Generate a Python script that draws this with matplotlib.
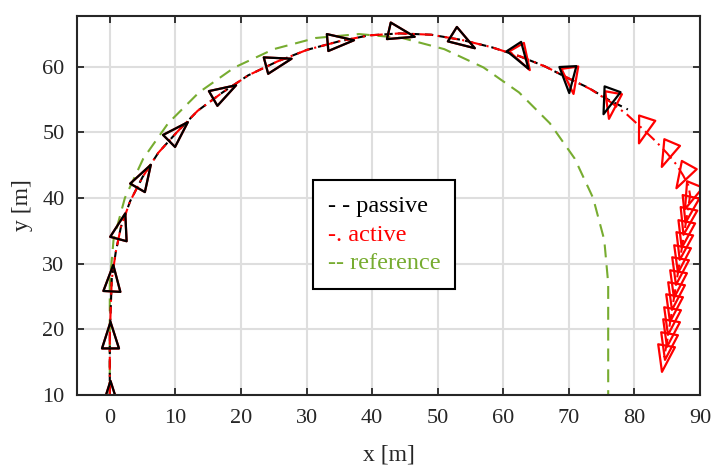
import matplotlib
matplotlib.use("Agg")
import matplotlib.pyplot as plt
from matplotlib.markers import MarkerStyle
from matplotlib.path import Path
from matplotlib.transforms import Affine2D
from matplotlib.lines import Line2D

# ---------------- data ----------------
# reference path
ref_x = [0, 0, 0, 0.57, 2.3, 5.1, 8.9, 13.6, 19.0, 25.0, 31.4, 38.0, 44.6, 51.0,
         57.0, 62.4, 67.1, 70.9, 73.7, 75.4, 76.0, 76.0]
ref_y = [10, 20, 27, 33.6, 40.0, 46.0, 51.4, 56.1, 59.9, 62.7, 64.4, 65.0, 64.4, 62.7,
         59.9, 56.1, 51.4, 46.0, 40.0, 33.6, 27.0, 10]

# passive path
pas_x = [0, 0, 0.3, 0.9, 1.7, 3.1, 5.0, 7.4, 10.2, 13.4, 17.2, 21.1, 25.5, 30.1, 35.0,
         39.5, 44.2, 49.0, 53.7, 58.2, 62.5, 66.3, 69.8, 73.0, 76.0, 79.0]
pas_y = [10, 19, 27.6, 31.7, 35.6, 39.5, 43.2, 46.9, 50.0, 53.3, 56.1, 58.7, 60.8, 62.6, 63.9,
         64.8, 65.1, 64.9, 64.1, 63.0, 61.6, 60.1, 58.3, 56.8, 55.0, 53.5]
# passive heading markers
pas_mx = [0, 0, 0.3, 1.7, 5.0, 10.2, 17.2, 25.5, 35.0, 44.2, 53.7, 62.5, 69.8, 76.0]
pas_my = [10, 19, 27.6, 35.6, 43.2, 50.0, 56.1, 60.8, 63.9, 65.1, 64.1, 61.6, 58.3, 55.0]
pas_hd = [90, 90, 87, 75, 60, 45, 30, 15, 5, -13, -32, -57, -87, -110]

# active path
act_x = [0, 0, 0.3, 0.9, 1.7, 3.1, 5.0, 7.4, 10.2, 13.4, 17.2, 21.1, 25.5, 30.1, 35.0,
         39.5, 44.2, 49.0, 53.7, 58.2, 62.6, 66.5, 70.1, 73.3, 76.4, 78.9, 81.3, 83.3,
         85.0, 86.4, 87.4, 88.2, 88.5, 88.2, 87.9, 87.6, 87.3, 87.0, 86.7, 86.4, 86.1,
         85.8, 85.5, 85.2, 84.9, 84.5]
act_y = [10, 19, 27.6, 31.7, 35.6, 39.5, 43.2, 46.9, 50.0, 53.3, 56.1, 58.7, 60.8, 62.6, 63.9,
         64.8, 65.1, 64.9, 64.1, 63.0, 61.6, 60.0, 58.2, 56.6, 54.6, 52.7, 50.5, 48.6,
         46.8, 45.1, 43.5, 42.0, 40.4, 38.5, 36.6, 34.7, 32.8, 30.9, 29.0, 27.1, 25.2,
         23.3, 21.4, 19.5, 17.6, 15.7]
# active heading markers
act_mx = [0, 0, 0.3, 1.7, 5.0, 10.2, 17.2, 25.5, 35.0, 44.2, 53.7, 62.8, 70.3, 76.5,
          81.3, 85.0, 87.4, 88.5, 88.2, 87.9, 87.6, 87.3, 87.0, 86.7, 86.4, 86.1,
          85.8, 85.5, 85.2, 84.9, 84.5]
act_my = [10, 19, 27.6, 35.6, 43.2, 50.0, 56.1, 60.8, 63.9, 65.1, 64.1, 61.5, 58.2, 54.3,
          50.5, 46.8, 43.5, 40.4, 38.5, 36.6, 34.7, 32.8, 30.9, 29.0, 27.1, 25.2,
          23.3, 21.4, 19.5, 17.6, 15.7]
act_hd = [90, 90, 87, 75, 60, 45, 30, 15, 5, -13, -32, -60, -82, -100,
          -108, -113, -119, -112, -102, -102, -101, -101, -100, -100, -100, -100,
          -100, -100, -100, -100, -100]

legend_labels = ["- - passive", "-. active", "-- reference"]
x_ticks = [0, 10, 20, 30, 40, 50, 60, 70, 80, 90]
y_ticks = [10, 20, 30, 40, 50, 60]

# ---------------- style ----------------
plt.rcParams['font.family'] = ['Liberation Serif', 'DejaVu Serif']
GREEN = '#77AC30'
RED = '#FF0000'
AXC = '#262626'

fig = plt.figure(figsize=(7.14, 4.66), dpi=100)
ax = fig.add_axes([77 / 714, 1 - 394.7 / 466, 623 / 714, 379 / 466])

tri = Path([(0.55, 0), (-0.45, 0.32), (-0.45, -0.32), (0.55, 0)],
           [Path.MOVETO, Path.LINETO, Path.LINETO, Path.CLOSEPOLY])


def draw_markers(xs, ys, hs, color, z):
    for xv, yv, hv in zip(xs, ys, hs):
        m = MarkerStyle(tri, transform=Affine2D().rotate_deg(hv), joinstyle='miter')
        ax.plot([xv], [yv], linestyle='none', marker=m, markersize=21,
                markerfacecolor='none', markeredgecolor=color,
                markeredgewidth=1.6, zorder=z, clip_on=True)


ax.plot(ref_x, ref_y, color=GREEN, lw=1.5, dashes=(6.2, 3.8), zorder=2)
ax.plot(pas_x, pas_y, color='black', lw=1.5, dashes=(4, 2.5), zorder=3)
ax.plot(act_x, act_y, color=RED, lw=1.5, dashes=(6.2, 2.4, 1, 2.4), zorder=4)
draw_markers(act_mx, act_my, act_hd, RED, 5)
draw_markers(pas_mx, pas_my, pas_hd, 'black', 6)

ax.set_xlim(-5, 90)
ax.set_ylim(10, 67.8)
ax.set_xticks(x_ticks)
ax.set_yticks(y_ticks)
ax.grid(True, color='#dedede', lw=1.5)
ax.set_axisbelow(True)
for s in ax.spines.values():
    s.set_color(AXC)
    s.set_linewidth(1.5)
    s.set_zorder(10)
ax.tick_params(direction='in', length=5, width=1.3, color=AXC, labelcolor=AXC,
               labelsize=16, top=True, right=True)
ax.tick_params(axis='x', pad=10)
ax.tick_params(axis='y', pad=9)
ax.set_xlabel('x [m]', fontsize=17, color=AXC, labelpad=12)
ax.set_ylabel('y [m]', fontsize=17, color=AXC, labelpad=7)

handles = [Line2D([], [], linestyle='none') for _ in legend_labels]
leg = ax.legend(handles, legend_labels, loc='upper left', bbox_to_anchor=(0.379, 0.566),
                handlelength=0, handletextpad=0, fontsize=17.5, frameon=True,
                fancybox=False, framealpha=1, edgecolor='black', borderpad=0.6,
                labelspacing=0.28, borderaxespad=0)
leg.get_frame().set_linewidth(1.5)
for t, c in zip(leg.get_texts(), ['black', RED, GREEN]):
    t.set_color(c)
leg.set_zorder(20)

fig.savefig('out.png', dpi=100)
